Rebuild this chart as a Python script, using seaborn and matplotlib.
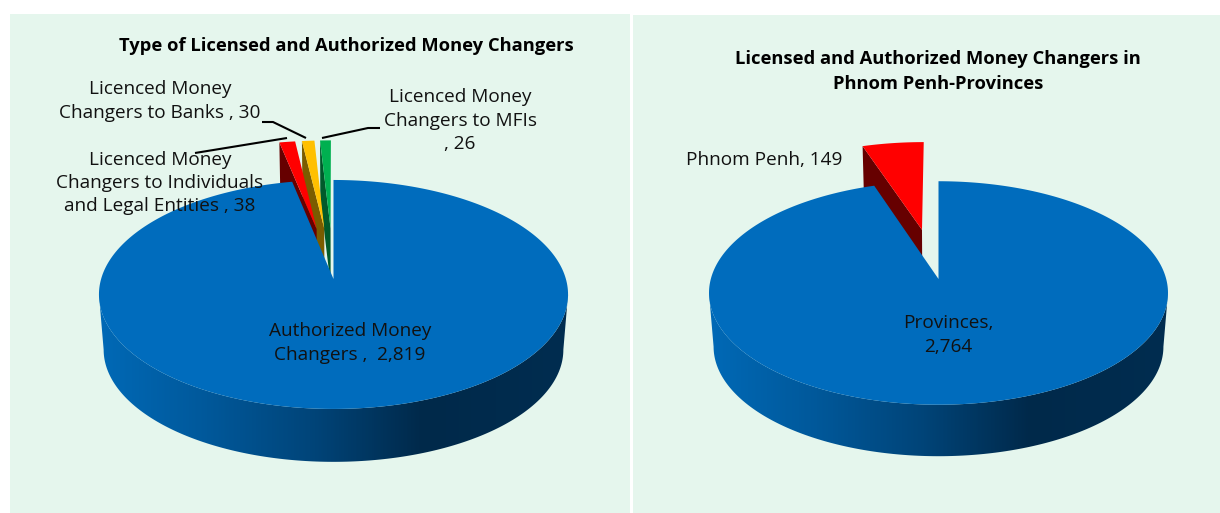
#!/usr/bin/env python3
"""Money changers: two exploded 3D style pies drawn on seaborn/matplotlib."""

import numpy as np
import matplotlib
matplotlib.use("Agg")
import matplotlib.pyplot as plt
from matplotlib.colors import LinearSegmentedColormap
from matplotlib.patches import Polygon
import seaborn as sns

sns.set_theme(style="white")
plt.rcParams['font.family'] = ['Open Sans', 'DejaVu Sans']

# Data
type_labels = ["Authorized Money\nChangers ,  2,819",
               "Licenced Money\nChangers to Individuals\nand Legal Entities , 38",
               "Licenced Money\nChangers to Banks , 30",
               "Licenced Money\nChangers to MFIs\n, 26"]
type_values = [2819, 38, 30, 26]
type_colors = ["#006cbd", "#ff0000", "#ffc000", "#00b050"]
type_dark = ["#00294a", "#660000", "#7a5c00", "#005a2b"]
type_explode = [0, 0.48, 0.48, 0.48]

area_labels = ["Provinces,\n2,764", "Phnom Penh, 149"]
area_values = [2764, 149]
area_colors = ["#006cbd", "#ff0000"]
area_dark = ["#00294a", "#660000"]
area_explode = [0, 0.48]

BG = "#e5f6ed"
side_cmap = LinearSegmentedColormap.from_list(
    "side", sns.blend_palette(["#0069b6", "#00589a", "#004478", "#00294a", "#002d50"], 256))


def make_proj(cx, cy, rx, ry, k, depth):
    # perspective view of the unit disc, z=1 is the bottom of the disc
    def proj(u, v, z=0.0):
        w = 1 + k * v
        s = 1 - 0.02 * z
        return cx + s * rx * u / w, cy + z * depth - s * ry * v / w
    return proj


def arc(w, n=80):
    t = np.radians(np.linspace(w.theta1, w.theta2, n))
    return w.center[0] + w.r * np.cos(t), w.center[1] + w.r * np.sin(t)


def draw_pie(ax, values, colors, darks, explode, proj, dark_x, k):
    wedges, _ = ax.pie(values, colors=colors, explode=explode, startangle=90, counterclock=False)
    info = [(w.center, w.r, w.theta1, w.theta2, colors[i], darks[i], explode[i])
            for i, w in enumerate(wedges)]
    geoms = list(wedges)
    for w in wedges:
        w.set_visible(False)
    ax.set_aspect('auto')
    ax.set_frame_on(True)
    ax.set_facecolor(BG)
    for s in ax.spines.values():
        s.set_visible(False)

    # exploded slices, right one first so the left ones sit on top
    for w, (c, r, t1, t2, col, dark, ex) in reversed(list(zip(geoms, info))):
        if ex == 0:
            continue
        us, vs = arc(w)
        # left radial face, extruded down
        edge = max([t1, t2])
        eu, ev = c[0] + r * np.cos(np.radians(edge)), c[1] + r * np.sin(np.radians(edge))
        pts = [proj(c[0], c[1]), proj(eu, ev), proj(eu, ev, 1), proj(c[0], c[1], 1)]
        ax.add_patch(Polygon(pts, closed=True, fc=dark, ec='none', zorder=2))
        top = [proj(c[0], c[1])] + [proj(a, b) for a, b in zip(us, vs)]
        ax.add_patch(Polygon(top, closed=True, fc=col, ec='none', zorder=2))

    # big slice: rim with a horizontal gradient, then the top
    for w, (c, r, t1, t2, col, dark, ex) in zip(geoms, info):
        if ex != 0:
            continue
        # silhouette of the disc sits a little below its middle because of the perspective
        t_edge = np.degrees(np.arcsin(k))
        t = np.radians(np.linspace(180 + t_edge, 360 - t_edge, 200))
        upper = [proj(np.cos(a), np.sin(a)) for a in t]
        lower = [proj(np.cos(a), np.sin(a), 1) for a in t[::-1]]
        rim = Polygon(upper + lower, closed=True, fc='none', ec='none', zorder=4)
        ax.add_patch(rim)
        xs = [p[0] for p in upper]
        x0, x1 = min(xs), max(xs)
        grad = np.interp(np.linspace(x0, x1, 400), [x0, dark_x, x1], [0, 0.75, 1.0])[None, :]
        img = ax.imshow(grad, cmap=side_cmap, vmin=0, vmax=1, aspect='auto',
                        extent=(x0, x1, 480, 270), zorder=4)
        img.set_clip_path(rim)
        us, vs = arc(w, 300)
        top = [proj(c[0], c[1])] + [proj(a, b) for a, b in zip(us, vs)]
        ax.add_patch(Polygon(top, closed=True, fc=col, ec='none', zorder=5))


fig = plt.figure(figsize=(12.2, 5.13), dpi=100, facecolor='white')
W, H = 1220.0, 513.0

# Left panel
x0, x1, y0, y1 = 10, 630, 14, 513
ax1 = fig.add_axes([x0 / W, 1 - y1 / H, (x1 - x0) / W, (y1 - y0) / H])
draw_pie(ax1, type_values, type_colors, type_dark, type_explode,
         make_proj(333.5, 279, 232.4, 112.4, 0.135, 55.5), 423, 0.135)
ax1.set_xlim(x0, x1)
ax1.set_ylim(y1, y0)

txt = dict(ha='center', va='center', fontsize=13.7, color='#111111', zorder=10, linespacing=1.36)
ax1.text(346, 45.5, "Type of Licensed and Authorized Money Changers", ha='center', va='center',
         fontsize=13.2, fontweight='bold', color='black', zorder=10)
ax1.text(350, 343, type_labels[0], **txt)
ax1.text(160, 183, type_labels[1], **txt)
ax1.text(160, 101, type_labels[2], **txt)
ax1.text(460, 120.5, type_labels[3], **txt)
for lx, ly in [([195, 287], [153, 138]),
               ([262, 273, 306], [122, 122, 138]),
               ([380, 368, 322], [128, 128, 138])]:
    ax1.plot(lx, ly, color='black', lw=1.5, zorder=9, solid_capstyle='butt')

# Right panel
x0, x1, y0, y1 = 633, 1220, 15, 513
ax2 = fig.add_axes([x0 / W, 1 - y1 / H, (x1 - x0) / W, (y1 - y0) / H])
draw_pie(ax2, area_values, area_colors, area_dark, area_explode,
         make_proj(938.5, 279, 227.7, 110, 0.125, 54), 1030, 0.125)
ax2.set_xlim(x0, x1)
ax2.set_ylim(y1, y0)

ax2.text(938, 71.5, "Licensed and Authorized Money Changers in\nPhnom Penh-Provinces", ha='center',
         va='center', fontsize=13.2, fontweight='bold', color='black', zorder=10, linespacing=1.45)
ax2.text(948, 335, area_labels[0], **txt)
ax2.text(686, 160, area_labels[1], **{**txt, 'ha': 'left'})

fig.savefig("out.png", dpi=100, facecolor='white')
